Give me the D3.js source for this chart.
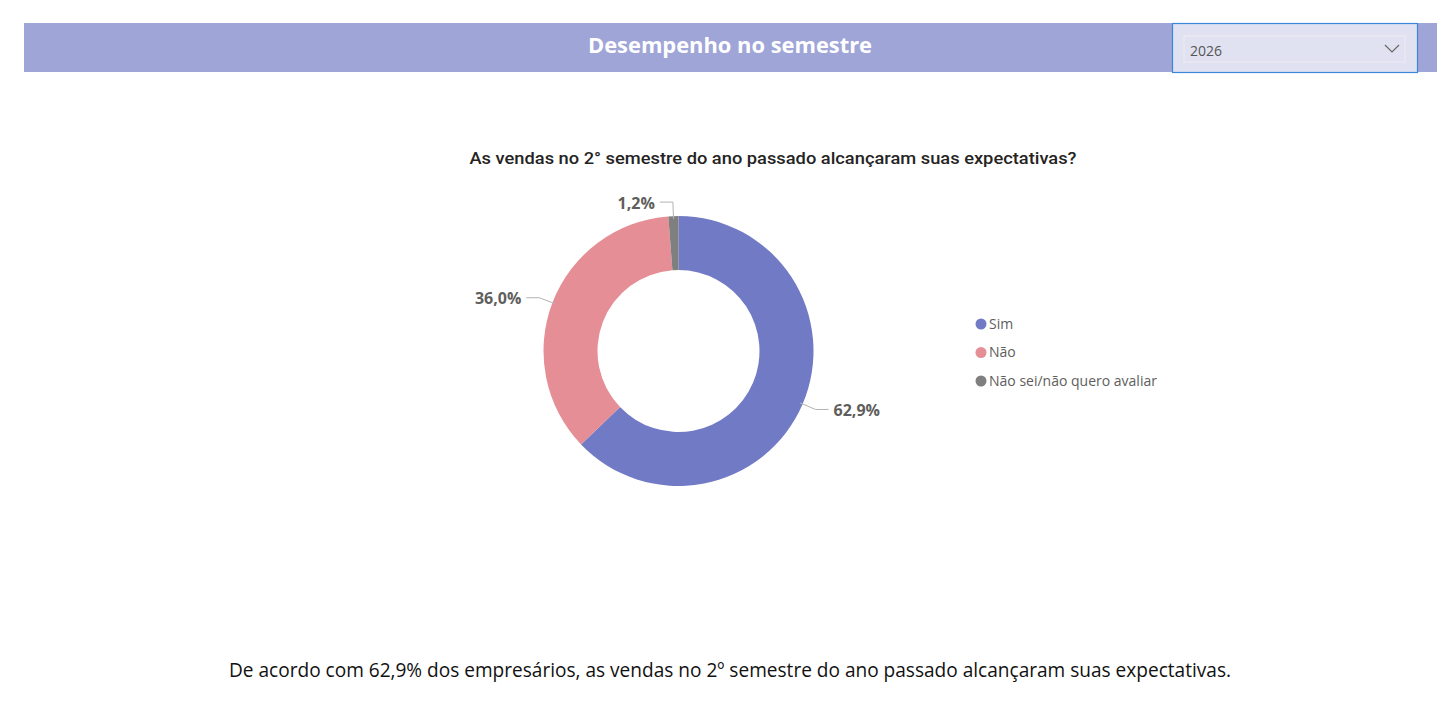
<!DOCTYPE html>
<html>
<head>
<meta charset="utf-8">
<script src="https://cdn.jsdelivr.net/npm/d3@7"></script>
<style>
  body { margin: 0; background: #fff; }
  svg { display: block; }
</style>
</head>
<body>
<svg id="chart" width="1452" height="722"></svg>
<script>
// dados do gráfico
var categorias = ["Sim", "Não", "Não sei/não quero avaliar"];
var valores = [62.9, 36.0, 1.2];
var rotulos = ["62,9%", "36,0%", "1,2%"];
var cores = ["#717AC5", "#E68E96", "#7F7F7F"];
var anos = ["2026"];

var svg = d3.select("#chart");

// faixa do cabeçalho
svg.append("rect")
  .attr("x", 24).attr("y", 23)
  .attr("width", 1413).attr("height", 49)
  .style("fill", "#A0A5D8");

svg.append("text")
  .attr("x", 730).attr("y", 53)
  .attr("text-anchor", "middle")
  .attr("textLength", 284)
  .attr("lengthAdjust", "spacingAndGlyphs")
  .style("font-family", "'Open Sans', sans-serif")
  .style("font-weight", 700)
  .style("font-size", "22px")
  .style("fill", "#fff")
  .text("Desempenho no semestre");

// seletor de ano
const drop = svg.append("g").attr("transform", "translate(1172,23)");
drop.append("rect")
  .attr("x", 0.5).attr("y", 0.5)
  .attr("width", 245).attr("height", 49)
  .style("fill", "#E1E2F1")
  .style("stroke", "#3A86DA")
  .style("stroke-width", 1.2);
drop.append("rect")
  .attr("x", 12).attr("y", 13)
  .attr("width", 221).attr("height", 26)
  .style("fill", "none")
  .style("stroke", "#EBECF5");
drop.append("text")
  .attr("x", 18).attr("y", 33)
  .style("font-family", "'Open Sans', sans-serif")
  .style("font-size", "14px")
  .style("fill", "#555")
  .text(anos[0]);
drop.append("path")
  .attr("d", "M213,22 L220,29 L227,22")
  .style("fill", "none")
  .style("stroke", "#666")
  .style("stroke-width", 1.2);

// título do visual
svg.append("text")
  .attr("x", 773).attr("y", 164)
  .attr("text-anchor", "middle")
  .attr("textLength", 607)
  .attr("lengthAdjust", "spacingAndGlyphs")
  .style("font-family", "Roboto, sans-serif")
  .style("font-weight", 500)
  .style("font-size", "16px")
  .style("fill", "#252423")
  .text("As vendas no 2° semestre do ano passado alcançaram suas expectativas?");

// rosca
const cx = 678.5, cy = 351, outer = 135, inner = 81;

const pie = d3.pie()
  .sort(null)
  .value(d => d.v);

const dados = categorias.map((c, i) => ({nome: c, v: valores[i], rot: rotulos[i], cor: cores[i]}));
const arcs = pie(dados);

const arc = d3.arc().innerRadius(inner).outerRadius(outer);

const g = svg.append("g").attr("transform", "translate(" + cx + "," + cy + ")");

g.selectAll("path.fatia")
  .data(arcs)
  .join("path")
  .attr("class", "fatia")
  .attr("d", arc)
  .style("fill", d => d.data.cor);

// linhas guia e rótulos
const arcA = d3.arc().innerRadius(outer - 3).outerRadius(outer - 3);
const arcB = d3.arc().innerRadius(outer + 14).outerRadius(outer + 14);

arcs.forEach(d => {
  const a = arcA.centroid(d);
  const b = arcB.centroid(d);
  const lado = b[0] >= 0 ? 1 : -1;
  const c = [b[0] + lado * 13, b[1]];
  g.append("polyline")
    .attr("points", [a, b, c].map(p => p.join(",")).join(" "))
    .style("fill", "none")
    .style("stroke", "#B3B3B3")
    .style("stroke-width", 1);
  g.append("text")
    .attr("x", c[0] + lado * 5)
    .attr("y", c[1] + 1)
    .attr("dy", "0.35em")
    .attr("text-anchor", lado > 0 ? "start" : "end")
    .style("font-family", "'Open Sans', sans-serif")
    .style("font-weight", 700)
    .style("font-size", "16px")
    .style("fill", "#605E5C")
    .text(d.data.rot);
});

// legenda
const leg = svg.append("g").attr("transform", "translate(981,324)");
const y = d3.scalePoint().domain(categorias).range([0, 57]);

const item = leg.selectAll("g")
  .data(dados)
  .join("g")
  .attr("transform", d => "translate(0," + y(d.nome) + ")");

item.append("circle")
  .attr("r", 5.5)
  .style("fill", d => d.cor);

item.append("text")
  .attr("x", 8)
  .attr("dy", "0.35em")
  .style("font-family", "'Open Sans', sans-serif")
  .style("font-size", "14px")
  .style("fill", "#605E5C")
  .text(d => d.nome);

// texto de conclusão
svg.append("text")
  .attr("x", 730).attr("y", 677)
  .attr("text-anchor", "middle")
  .attr("textLength", 1002)
  .attr("lengthAdjust", "spacingAndGlyphs")
  .style("font-family", "'Open Sans', sans-serif")
  .style("font-size", "20px")
  .style("fill", "#111")
  .text("De acordo com " + rotulos[0] + " dos empresários, as vendas no 2º semestre do ano passado alcançaram suas expectativas.");
</script>
</body>
</html>
